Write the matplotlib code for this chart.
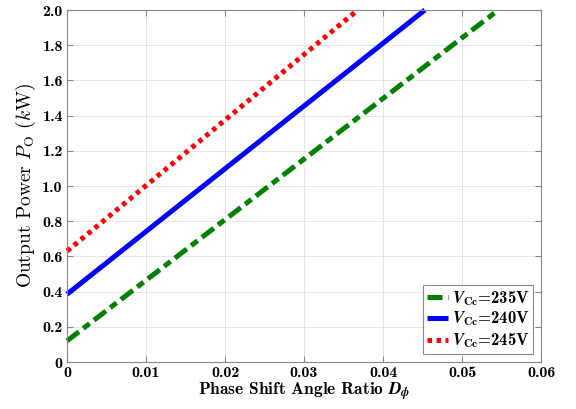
import matplotlib
matplotlib.use("Agg")
import matplotlib.pyplot as plt

plt.rcParams["font.family"] = ["cmb10", "DejaVu Serif"]
plt.rcParams["mathtext.fontset"] = "custom"
plt.rcParams["mathtext.rm"] = "cmb10"
plt.rcParams["mathtext.bf"] = "cmb10"
plt.rcParams["mathtext.it"] = "STIXGeneral:italic:bold"
plt.rcParams["axes.unicode_minus"] = False

# line endpoints (x = phase shift ratio, y = kW)
d_235 = [0.0, 0.0546]
p_235 = [0.12, 2.0]
d_240 = [0.0, 0.0453]
p_240 = [0.385, 2.0]
d_245 = [0.0, 0.0368]
p_245 = [0.63, 2.0]

x_ticks = [0, 0.01, 0.02, 0.03, 0.04, 0.05, 0.06]
x_labels = ["0", "0.01", "0.02", "0.03", "0.04", "0.05", "0.06"]
y_ticks = [0, 0.2, 0.4, 0.6, 0.8, 1.0, 1.2, 1.4, 1.6, 1.8, 2.0]
y_labels = ["0", "0.2", "0.4", "0.6", "0.8", "1.0", "1.2", "1.4", "1.6", "1.8", "2.0"]

fig = plt.figure(figsize=(5.76, 4.09), dpi=100)
ax = fig.add_axes([67 / 576, 1 - 362 / 409, 474 / 576, 352 / 409])

lw = 3.6
ax.plot(d_235, p_235, color="#008000", lw=lw, dashes=(3, 1.1, 1.6, 1.1),
        label=r"$V_{\mathrm{Cc}}$=235V", clip_on=False)
ax.plot(d_240, p_240, color="#0000ff", lw=lw, solid_capstyle="butt",
        label=r"$V_{\mathrm{Cc}}$=240V", clip_on=False)
ax.plot(d_245, p_245, color="#ff0000", lw=lw, dashes=(0.9, 0.9),
        label=r"$V_{\mathrm{Cc}}$=245V", clip_on=False)

ax.set_xlim(0, 0.06)
ax.set_ylim(0, 2.0)
ax.set_xticks(x_ticks)
ax.set_xticklabels(x_labels)
ax.set_yticks(y_ticks)
ax.set_yticklabels(y_labels)
ax.tick_params(direction="in", top=True, right=True, labelsize=11.5,
               color="#888888", length=4, pad=3)
for s in ax.spines.values():
    s.set_color("#888888")
    s.set_linewidth(0.8)
ax.grid(True, color="#e6e6e6", lw=0.7)

ax.set_xlabel(r"Phase Shift Angle Ratio $D_{\phi}$", fontsize=12.5, labelpad=0)
ax.set_ylabel(r"Output Power $P_{\mathrm{O}}$ ($k$W)", fontsize=14,
              fontfamily="cmr10", math_fontfamily="cm", labelpad=3)

leg = ax.legend(loc="lower right", fontsize=12, fancybox=False,
                framealpha=1, edgecolor="#888888", handlelength=1.3,
                borderpad=0.2, labelspacing=0.15, handletextpad=0.2,
                borderaxespad=0.5)
leg.get_frame().set_linewidth(0.8)

fig.savefig("out.png", dpi=100)
